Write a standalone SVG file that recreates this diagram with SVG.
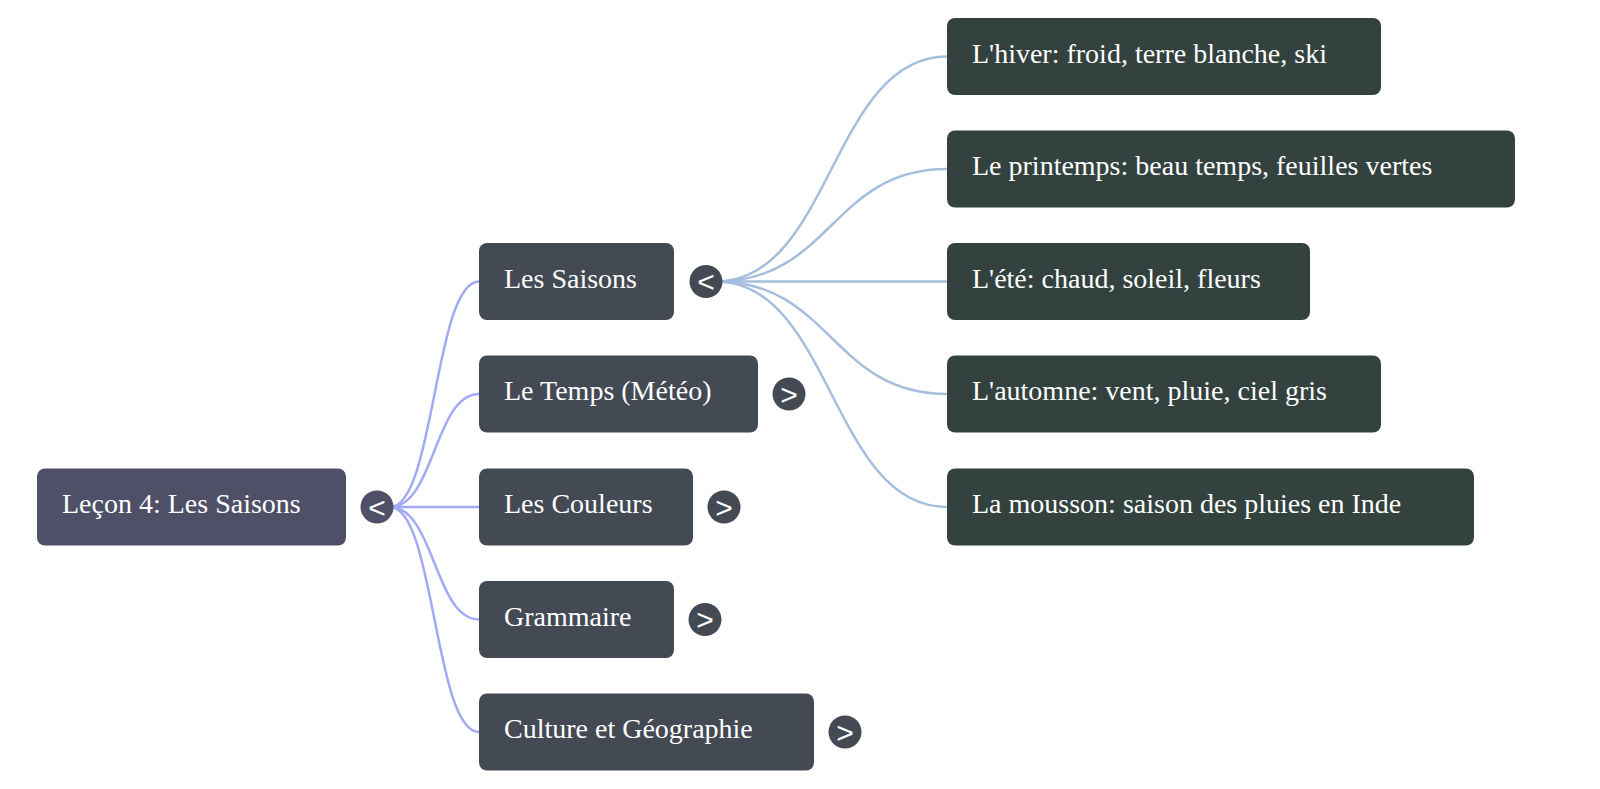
<svg xmlns="http://www.w3.org/2000/svg" width="1600" height="789" viewBox="0 0 1600 789">
<style>
.lbl{font-family:"Liberation Serif","Times New Roman",serif;font-size:28px;fill:#ffffff}
.tg{font-family:"Liberation Sans",Arial,sans-serif;font-size:30px;fill:#ffffff;text-anchor:middle}
.root{fill:#4f5067}
.l1{fill:#434a54}
.leaf{fill:#33423f}
.l1link{fill:none;stroke:#a3aaf5;stroke-width:2.5}
.l2link{fill:none;stroke:#a5bedd;stroke-width:2.5}
</style>
<rect width="1600" height="789" fill="#ffffff"/>
<g id="connectors">
<path class="l1link" d="M390,507 C434.5,507 434.5,281.5 479,281.5"/>
<path class="l1link" d="M390,507 C434.5,507 434.5,394 479,394"/>
<path class="l1link" d="M390,507 L479,507"/>
<path class="l1link" d="M390,507 C434.5,507 434.5,619.5 479,619.5"/>
<path class="l1link" d="M390,507 C434.5,507 434.5,732 479,732"/>
<path class="l2link" d="M716,281.5 C831.5,281.5 831.5,56.5 947,56.5"/>
<path class="l2link" d="M716,281.5 C831.5,281.5 831.5,169 947,169"/>
<path class="l2link" d="M716,281.5 L947,281.5"/>
<path class="l2link" d="M716,281.5 C831.5,281.5 831.5,394 947,394"/>
<path class="l2link" d="M716,281.5 C831.5,281.5 831.5,507 947,507"/>
</g>
<g id="root">
<rect class="root" x="37" y="468.5" width="309" height="77" rx="8"/>
<text class="lbl" x="62" y="513">Leçon 4: Les Saisons</text>
<circle class="root" cx="377" cy="507" r="16.5"/>
<text class="tg" x="377" y="517.5">&lt;</text>
</g>
<g id="n-saisons">
<rect class="l1" x="479" y="243" width="195" height="77" rx="8"/>
<text class="lbl" x="504" y="287.5">Les Saisons</text>
<circle class="l1" cx="706" cy="281.5" r="16.5"/>
<text class="tg" x="706" y="292">&lt;</text>
</g>
<g id="n-temps">
<rect class="l1" x="479" y="355.5" width="279" height="77" rx="8"/>
<text class="lbl" x="504" y="400">Le Temps (Météo)</text>
<circle class="l1" cx="789" cy="394" r="16.5"/>
<text class="tg" x="789" y="404.5">&gt;</text>
</g>
<g id="n-couleurs">
<rect class="l1" x="479" y="468.5" width="214" height="77" rx="8"/>
<text class="lbl" x="504" y="513">Les Couleurs</text>
<circle class="l1" cx="724" cy="507" r="16.5"/>
<text class="tg" x="724" y="517.5">&gt;</text>
</g>
<g id="n-grammaire">
<rect class="l1" x="479" y="581" width="195" height="77" rx="8"/>
<text class="lbl" x="504" y="625.5">Grammaire</text>
<circle class="l1" cx="705" cy="619.5" r="16.5"/>
<text class="tg" x="705" y="630">&gt;</text>
</g>
<g id="n-culture">
<rect class="l1" x="479" y="693.5" width="335" height="77" rx="8"/>
<text class="lbl" x="504" y="738">Culture et Géographie</text>
<circle class="l1" cx="845" cy="732" r="16.5"/>
<text class="tg" x="845" y="742.5">&gt;</text>
</g>
<g id="leaf-hiver">
<rect class="leaf" x="947" y="18" width="434" height="77" rx="8"/>
<text class="lbl" x="972" y="62.5">L'hiver: froid, terre blanche, ski</text>
</g>
<g id="leaf-printemps">
<rect class="leaf" x="947" y="130.5" width="568" height="77" rx="8"/>
<text class="lbl" x="972" y="175">Le printemps: beau temps, feuilles vertes</text>
</g>
<g id="leaf-ete">
<rect class="leaf" x="947" y="243" width="363" height="77" rx="8"/>
<text class="lbl" x="972" y="287.5">L'été: chaud, soleil, fleurs</text>
</g>
<g id="leaf-automne">
<rect class="leaf" x="947" y="355.5" width="434" height="77" rx="8"/>
<text class="lbl" x="972" y="400">L'automne: vent, pluie, ciel gris</text>
</g>
<g id="leaf-mousson">
<rect class="leaf" x="947" y="468.5" width="527" height="77" rx="8"/>
<text class="lbl" x="972" y="513">La mousson: saison des pluies en Inde</text>
</g>
</svg>
